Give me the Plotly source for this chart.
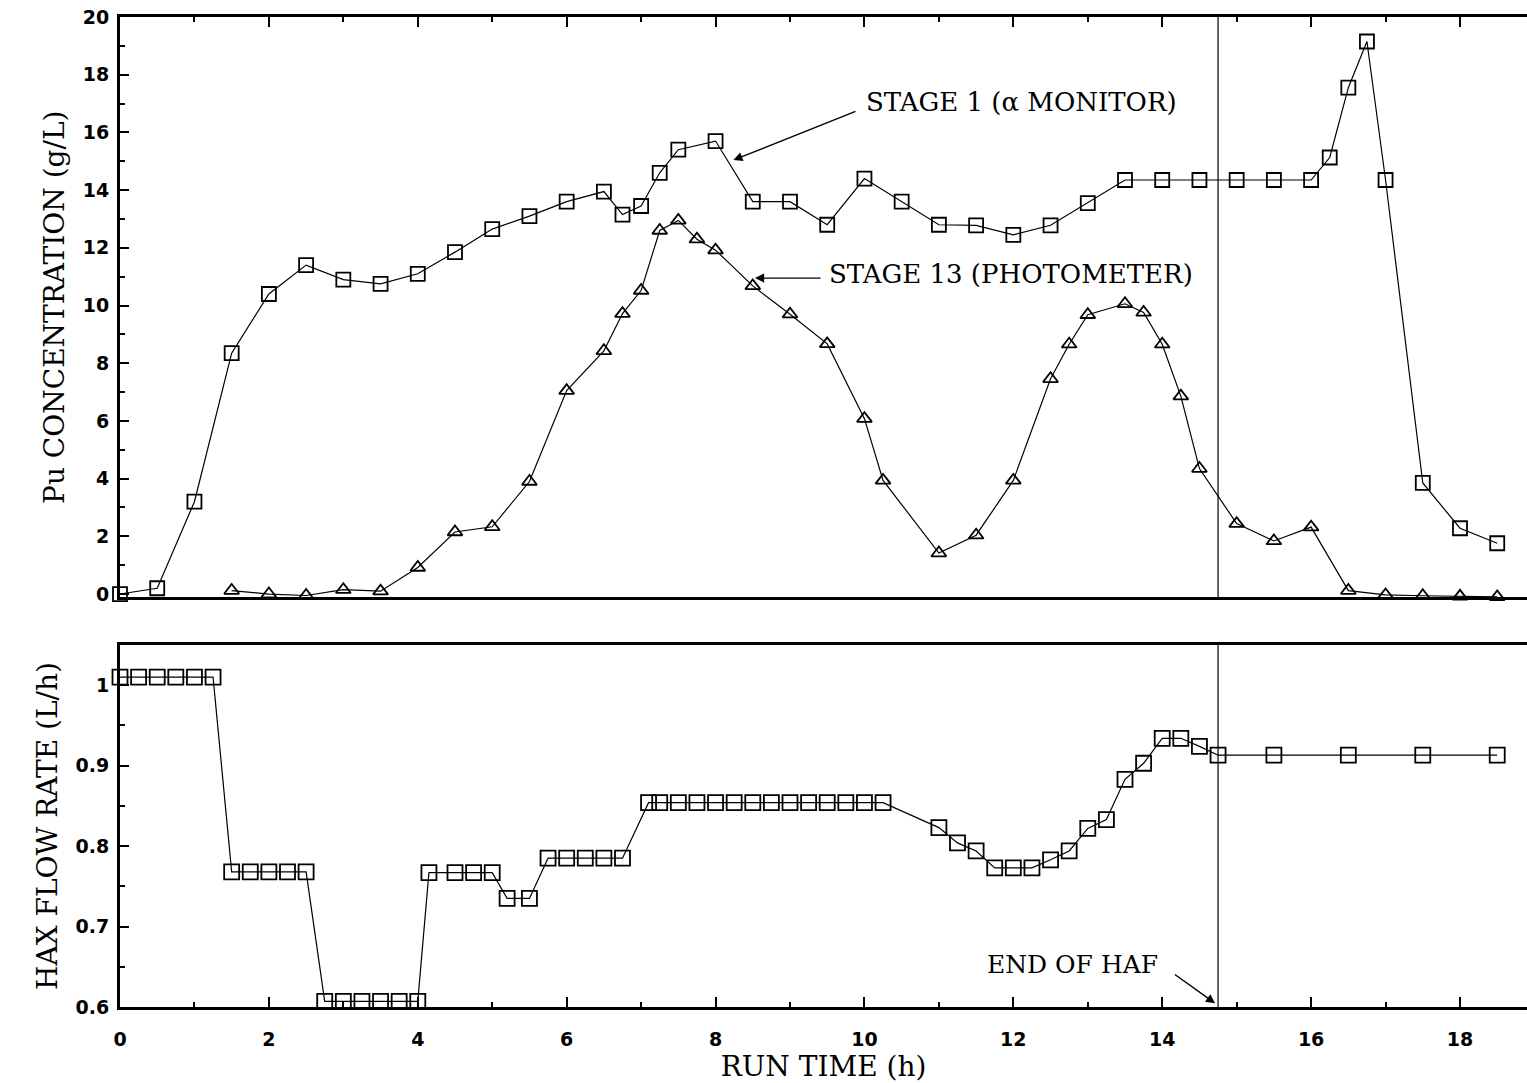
import plotly.graph_objects as go

# ---------------- data ----------------
stage1_time = [0, 0.5, 1.0, 1.5, 2.0, 2.5, 3.0, 3.5, 4.0, 4.5,
               5.0, 5.5, 6.0, 6.5, 6.75, 7.0, 7.25, 7.5, 8.0, 8.5,
               9.0, 9.5, 10.0, 10.5, 11.0, 11.5, 12.0, 12.5, 13.0, 13.5,
               14.0, 14.5, 15.0, 15.5, 16.0, 16.25, 16.5, 16.75, 17.0, 17.5,
               18.0, 18.5]
stage1_conc = [0.0, 0.2, 3.2, 8.35, 10.4, 11.4, 10.9, 10.75, 11.1, 11.85,
               12.65, 13.1, 13.6, 13.95, 13.15, 13.45, 14.6, 15.4, 15.7, 13.6,
               13.6, 12.8, 14.4, 13.6, 12.8, 12.78, 12.45, 12.78, 13.55, 14.35,
               14.35, 14.35, 14.35, 14.35, 14.35, 15.13, 17.55, 19.15, 14.35, 3.85,
               2.28, 1.76]

stage13_time = [1.5, 2.0, 2.5, 3.0, 3.5, 4.0, 4.5, 5.0, 5.5, 6.0,
                6.5, 6.75, 7.0, 7.25, 7.5, 7.75, 8.0, 8.5, 9.0, 9.5,
                10.0, 10.25, 11.0, 11.5, 12.0, 12.5, 12.75, 13.0, 13.5, 13.75,
                14.0, 14.25, 14.5, 15.0, 15.5, 16.0, 16.5, 17.0, 17.5, 18.0,
                18.5]
stage13_conc = [0.12, 0.0, -0.05, 0.15, 0.1, 0.92, 2.15, 2.33, 3.9, 7.05,
                8.43, 9.72, 10.52, 12.6, 12.95, 12.3, 11.92, 10.68, 9.7, 8.67,
                6.08, 3.94, 1.42, 2.04, 3.94, 7.46, 8.66, 9.68, 10.06, 9.76,
                8.66, 6.86, 4.35, 2.44, 1.84, 2.32, 0.12, -0.03, -0.06, -0.08,
                -0.1]

hax_time = [0, 0.25, 0.5, 0.75, 1.0, 1.25,
            1.5, 1.75, 2.0, 2.25, 2.5,
            2.75, 3.0, 3.25, 3.5, 3.75, 4.0,
            4.15, 4.5, 4.75, 5.0,
            5.2, 5.5,
            5.75, 6.0, 6.25, 6.5, 6.75,
            7.1, 7.25, 7.5, 7.75, 8.0, 8.25, 8.5, 8.75, 9.0, 9.25, 9.5, 9.75, 10.0, 10.25,
            11.0, 11.25, 11.5, 11.75, 12.0, 12.25, 12.5, 12.75, 13.0, 13.25,
            13.5, 13.75, 14.0, 14.25, 14.5, 14.75,
            15.5, 16.5, 17.5, 18.5]
hax_flow = [1.01, 1.01, 1.01, 1.01, 1.01, 1.01,
            0.768, 0.768, 0.768, 0.768, 0.768,
            0.607, 0.607, 0.607, 0.607, 0.607, 0.607,
            0.767, 0.767, 0.767, 0.767,
            0.735, 0.735,
            0.785, 0.785, 0.785, 0.785, 0.785,
            0.854, 0.854, 0.854, 0.854, 0.854, 0.854, 0.854, 0.854, 0.854, 0.854, 0.854, 0.854, 0.854, 0.854,
            0.823, 0.804, 0.794, 0.773, 0.773, 0.773, 0.783, 0.794, 0.822, 0.833,
            0.883, 0.903, 0.934, 0.934, 0.924, 0.913,
            0.913, 0.913, 0.913, 0.913]

end_of_haf = 14.75

x_tick_vals = [0, 2, 4, 6, 8, 10, 12, 14, 16, 18]
x_tick_text = ["0", "2", "4", "6", "8", "10", "12", "14", "16", "18"]
conc_tick_vals = [0, 2, 4, 6, 8, 10, 12, 14, 16, 18, 20]
conc_tick_text = ["0", "2", "4", "6", "8", "10", "12", "14", "16", "18", "20"]
flow_tick_vals = [0.6, 0.7, 0.8, 0.9, 1.0]
flow_tick_text = ["0.6", "0.7", "0.8", "0.9", "1"]

# ---------------- figure ----------------
fig = go.Figure()

fig.add_trace(go.Scatter(
    x=stage1_time, y=stage1_conc, mode="lines+markers",
    line=dict(color="black", width=1.2),
    marker=dict(symbol="square-open", size=14, color="black", line=dict(width=1.8)),
    xaxis="x", yaxis="y", cliponaxis=False, showlegend=False))

fig.add_trace(go.Scatter(
    x=stage13_time, y=stage13_conc, mode="lines+markers",
    line=dict(color="black", width=1.2),
    marker=dict(symbol="triangle-up-open", size=13, color="black", line=dict(width=1.8)),
    xaxis="x", yaxis="y", cliponaxis=False, showlegend=False))

fig.add_trace(go.Scatter(
    x=hax_time, y=hax_flow, mode="lines+markers",
    line=dict(color="black", width=1.2),
    marker=dict(symbol="square-open", size=15, color="black", line=dict(width=1.8)),
    xaxis="x2", yaxis="y2", cliponaxis=False, showlegend=False))

tick_font = dict(family="DejaVu Sans", size=19, color="black", weight=700)
title_font = dict(family="DejaVu Serif", size=28, color="black")
xr = [0, 18.9]

fig.update_layout(
    width=1527, height=1083,
    margin=dict(l=120, r=0, t=17, b=76),
    paper_bgcolor="white", plot_bgcolor="white",
    font=dict(family="DejaVu Serif", color="black"),
    xaxis=dict(domain=[0, 1], anchor="y", side="top", range=xr,
               showline=True, linewidth=3, linecolor="black", mirror=True,
               ticks="inside", ticklen=10, tickwidth=1.5, tickcolor="black",
               tickvals=x_tick_vals, showticklabels=False,
               minor=dict(ticks="inside", ticklen=5, tickwidth=1.5, dtick=1, tick0=0, tickcolor="black"),
               showgrid=False, zeroline=False, layer="below traces"),
    yaxis=dict(domain=[0.41364, 1], anchor="x", range=[-0.12, 20],
               showline=True, linewidth=3, linecolor="black",
               ticks="inside", ticklen=9, tickwidth=1.5, tickcolor="black",
               tickvals=conc_tick_vals, ticktext=conc_tick_text,
               tickfont=tick_font, ticklabelstandoff=4,
               minor=dict(ticks="inside", ticklen=5, tickwidth=1.5, dtick=1, tick0=0, tickcolor="black"),
               title=dict(text="Pu CONCENTRATION (g/L)", font=title_font, standoff=10),
               showgrid=False, zeroline=False, layer="below traces"),
    xaxis2=dict(domain=[0, 1], anchor="y2", side="bottom", range=xr,
                showline=True, linewidth=3, linecolor="black", mirror=True,
                ticks="inside", ticklen=10, tickwidth=1.5, tickcolor="black",
                tickvals=x_tick_vals, ticktext=x_tick_text,
                tickfont=tick_font, ticklabelstandoff=13,
                minor=dict(ticks="inside", ticklen=5, tickwidth=1.5, dtick=1, tick0=0, tickcolor="black"),
                title=dict(text="RUN TIME (h)", font=title_font, standoff=3),
                showgrid=False, zeroline=False, layer="below traces"),
    yaxis2=dict(domain=[0, 0.36566], anchor="x2", range=[0.6, 1.05],
                showline=True, linewidth=3, linecolor="black",
                ticks="inside", ticklen=9, tickwidth=1.5, tickcolor="black",
                tickvals=flow_tick_vals, ticktext=flow_tick_text,
                tickfont=tick_font, ticklabelstandoff=4,
                minor=dict(ticks="inside", ticklen=5, tickwidth=1.5, dtick=0.05, tick0=0.6, tickcolor="black"),
                title=dict(text="HAX FLOW RATE (L/h)", font=title_font, standoff=10),
                showgrid=False, zeroline=False, layer="below traces"),
    yaxis3=dict(overlaying="y2", anchor="x2", side="right", range=[0.6, 1.05],
                showline=False, ticks="inside", ticklen=12, tickwidth=1.5, tickcolor="black",
                tickvals=[0.7, 0.8, 0.9, 1.0], showticklabels=False,
                showgrid=False, zeroline=False),
)

# vertical "end of HAF" lines
fig.add_shape(type="line", xref="x", yref="y domain", x0=end_of_haf, x1=end_of_haf,
              y0=0, y1=1, line=dict(color="black", width=1.2))
fig.add_shape(type="line", xref="x2", yref="y2 domain", x0=end_of_haf, x1=end_of_haf,
              y0=0, y1=1, line=dict(color="black", width=1.2))

ann_font = dict(family="DejaVu Serif", size=26, color="black")

# labels
fig.add_annotation(x=10.0, y=17.05, xref="x", yref="y", text="STAGE 1 (α MONITOR)",
                   showarrow=False, xanchor="left", yanchor="middle", font=ann_font)
fig.add_annotation(x=9.5, y=11.1, xref="x", yref="y", text="STAGE 13 (PHOTOMETER)",
                   showarrow=False, xanchor="left", yanchor="middle", font=ann_font)
fig.add_annotation(x=11.62, y=0.6533, xref="x2", yref="y2", text="END OF HAF",
                   showarrow=False, xanchor="left", yanchor="middle",
                   font=dict(family="DejaVu Serif", size=25, color="black"))

# arrows
arrow_style = dict(showarrow=True, arrowhead=2, arrowsize=1.3, arrowwidth=1.4,
                   arrowcolor="black", text="")
fig.add_annotation(x=8.24, y=15.04, ax=9.9, ay=16.75, xref="x", yref="y",
                   axref="x", ayref="y", **arrow_style)
fig.add_annotation(x=8.53, y=10.95, ax=9.43, ay=10.95, xref="x", yref="y",
                   axref="x", ayref="y", **arrow_style)
fig.add_annotation(x=14.71, y=0.6046, ax=14.15, ay=0.6418, xref="x2", yref="y2",
                   axref="x2", ayref="y2", **arrow_style)

fig.write_html("out.html")
